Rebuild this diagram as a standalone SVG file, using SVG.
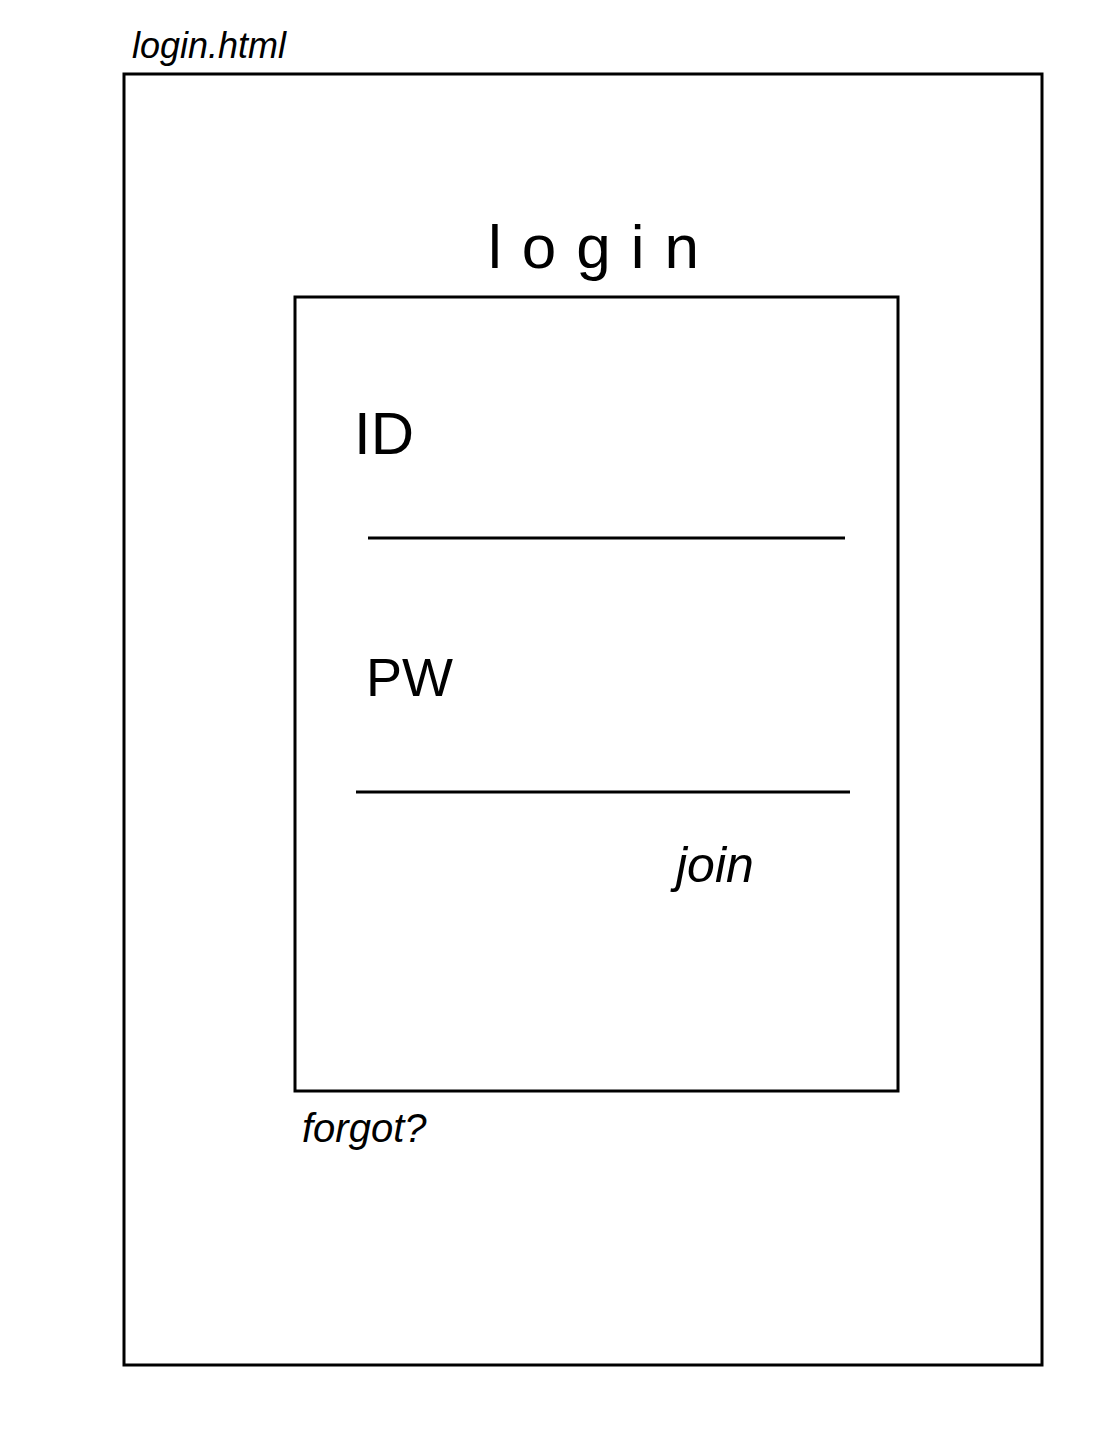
<svg xmlns="http://www.w3.org/2000/svg" width="1115" height="1440" viewBox="0 0 1115 1440">
<style>
.box{fill:none;stroke:#000;stroke-width:3}
.ln{stroke:#000;stroke-width:3}
.t{font-family:"Liberation Sans",Arial,sans-serif;fill:#000;font-style:italic}
.n{font-family:"Liberation Sans",Arial,sans-serif;fill:#000;font-style:normal}
</style>
<rect width="1115" height="1440" fill="#fff"/>
<g id="page">
<rect class="box" x="124" y="74" width="918" height="1291"/>
<text class="t" x="132" y="58" font-size="36">login.html</text>
</g>
<g id="login-title">
<text class="n" x="488" y="268" font-size="62" letter-spacing="20">login</text>
</g>
<g id="login-form">
<rect class="box" x="295" y="297" width="603" height="794"/>
</g>
<g id="id-field">
<text class="n" x="354" y="454" font-size="60">ID</text>
<line class="ln" x1="368" y1="538" x2="845" y2="538"/>
</g>
<g id="pw-field">
<text class="n" x="366" y="696" font-size="54">PW</text>
<line class="ln" x1="356" y1="792" x2="850" y2="792"/>
</g>
<g id="join">
<text class="t" x="676" y="882" font-size="50">join</text>
</g>
<g id="forgot">
<text class="t" x="302" y="1142" font-size="40">forgot?</text>
</g>
<g id="connectors"></g>
</svg>
